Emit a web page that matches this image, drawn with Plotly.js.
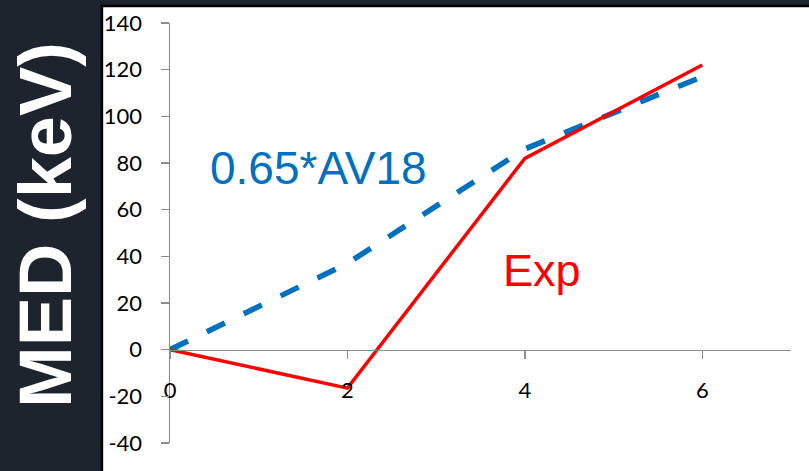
<!DOCTYPE html>
<html>
<head>
<meta charset="utf-8">
<script src="https://cdn.plot.ly/plotly-3.0.1.min.js"></script>
<style>
  html, body { margin: 0; padding: 0; background: #1d242d; }
  #chart { width: 809px; height: 471px; }
</style>
</head>
<body>
<div id="chart"></div>
<script>
// Mass-number axis and the two MED curves
const xValues = [0, 2, 4, 6];
const expMED = [0, -16.5, 82, 122];
const av18MED = [0, 37, 86, 117];

const yTicks = [-40, -20, 0, 20, 40, 60, 80, 100, 120, 140];
const xTicks = [0, 2, 4, 6];

const tickFont = { family: 'Lato, "Open Sans", sans-serif', size: 22, color: '#000000' };
const axisGrey = '#8c8c8c';

const traces = [
  {
    x: xValues, y: av18MED, type: 'scatter', mode: 'lines',
    line: { color: '#0070C0', width: 5.5, dash: '20px,21px' },
    hoverinfo: 'skip', cliponaxis: false
  },
  {
    x: xValues, y: expMED, type: 'scatter', mode: 'lines',
    line: { color: '#FF0000', width: 3.5 },
    hoverinfo: 'skip', cliponaxis: false
  }
];

const layout = {
  width: 809, height: 471,
  margin: { l: 170, r: 18, t: 23, b: 28 },
  paper_bgcolor: '#1d242d',
  plot_bgcolor: 'rgba(0,0,0,0)',
  showlegend: false,
  xaxis: {
    range: [0, 7], tickvals: xTicks, ticktext: xTicks.map(String),
    anchor: 'free', position: 40 / 180,
    showgrid: false, zeroline: false,
    showline: true, linecolor: axisGrey, linewidth: 1.5,
    ticks: 'outside', ticklen: 8, tickwidth: 1.5, tickcolor: axisGrey,
    ticklabelstandoff: 12,
    tickfont: tickFont, fixedrange: true
  },
  yaxis: {
    range: [-40, 140], tickvals: yTicks, ticktext: yTicks.map(String),
    showgrid: false, zeroline: false,
    showline: true, linecolor: axisGrey, linewidth: 1.5,
    ticks: 'outside', ticklen: 8, tickwidth: 1.5, tickcolor: axisGrey,
    ticklabelstandoff: 14,
    tickfont: tickFont, fixedrange: true
  },
  shapes: [
    {
      // white chart panel with its dark frame
      type: 'rect', xref: 'paper', yref: 'paper', layer: 'below',
      x0: -0.1096, x1: 1.06, y0: -0.12, y1: 1.0405,
      fillcolor: '#ffffff', line: { color: '#000000', width: 2.5 }
    }
  ],
  annotations: [
    {
      text: 'MED (keV)', xref: 'paper', yref: 'paper',
      x: -0.2014, y: 0.519, textangle: -90, showarrow: false,
      xanchor: 'center', yanchor: 'middle',
      font: { family: '"Liberation Sans", Arial, sans-serif', size: 74, color: '#ffffff', weight: 'bold' }
    },
    {
      text: '0.65*AV18', xref: 'x', yref: 'y',
      x: 1.67, y: 78, showarrow: false,
      xanchor: 'center', yanchor: 'middle',
      font: { family: '"Liberation Sans", Arial, sans-serif', size: 46, color: '#0070C0' }
    },
    {
      text: 'Exp', xref: 'x', yref: 'y',
      x: 4.195, y: 34, showarrow: false,
      xanchor: 'center', yanchor: 'middle',
      font: { family: '"Liberation Sans", Arial, sans-serif', size: 45, color: '#FF0000' }
    }
  ]
};

Plotly.newPlot('chart', traces, layout, { displayModeBar: false, staticPlot: true });
</script>
</body>
</html>
